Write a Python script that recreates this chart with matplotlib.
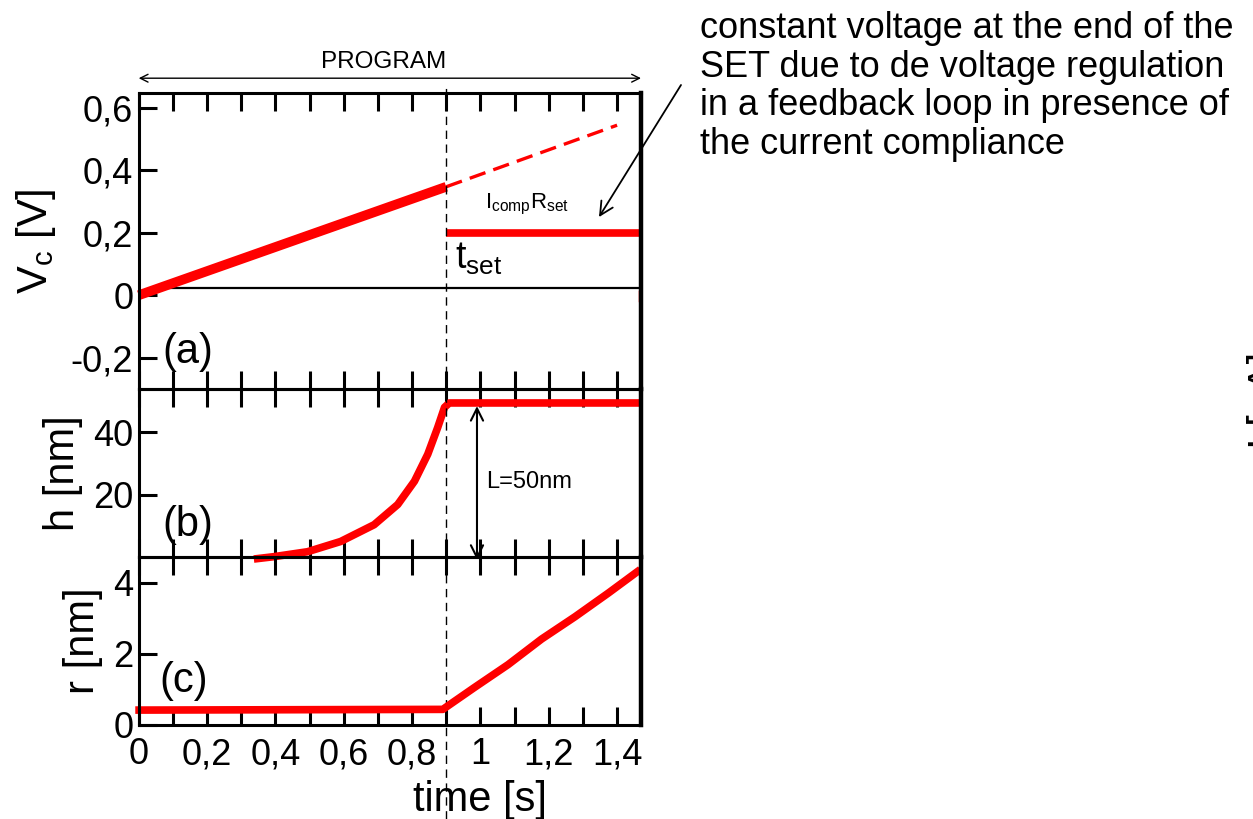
import numpy as np
import matplotlib.pyplot as plt
from matplotlib.ticker import MultipleLocator, FuncFormatter
from matplotlib.transforms import blended_transform_factory

plt.rcParams['font.family'] = ['Liberation Sans', 'DejaVu Sans']
plt.rcParams['mathtext.fontset'] = 'custom'
plt.rcParams['mathtext.rm'] = 'Liberation Sans'
plt.rcParams['mathtext.it'] = 'Liberation Sans'

# --- donnees ---
t_set = 0.9
t_max = 1.47

# (a) tension
t_ramp = [0.0, 0.9]
v_ramp = [0.0, 0.347]
t_extrap = [0.9, 1.4]
v_extrap = [0.347, 0.544]
t_comp = [0.9, 1.47]
v_comp = [0.2, 0.2]
t_base = [0.053, 1.47]
v_base = [0.023, 0.023]
t_drop = [1.468, 1.468]
v_drop = [0.01, -0.015]

# (b) hauteur du filament
t_h = [0.337, 0.395, 0.494, 0.591, 0.689, 0.758, 0.807, 0.846, 0.875, 0.895, 0.909, 1.47]
h_vals = [-0.75, 0.0, 1.6, 4.9, 10.3, 16.8, 24.3, 33.0, 41.6, 48.1, 49.5, 49.5]

# (c) rayon du filament
t_r = [-0.01, 0.89, 0.983, 1.081, 1.179, 1.277, 1.375, 1.468]
r_vals = [0.42, 0.44, 1.06, 1.70, 2.42, 3.05, 3.72, 4.38]

yticks_a = [-0.2, 0, 0.2, 0.4, 0.6]
yticks_b = [20, 40]
yticks_c = [0, 2, 4]

RED = '#ff0000'

fig = plt.figure(figsize=(12.53, 8.19), dpi=100)
W, H = 1253, 819

def box(top, bottom, left=138.7, right=641):
    return [left / W, 1 - bottom / H, (right - left) / W, (bottom - top) / H]

ax_a = fig.add_axes(box(93, 389))
ax_b = fig.add_axes(box(389, 556.7))
ax_c = fig.add_axes(box(556.7, 725))

comma = FuncFormatter(lambda v, p: f'{v:g}'.replace('.', ','))

for ax, yt in [(ax_a, yticks_a), (ax_b, yticks_b), (ax_c, yticks_c)]:
    ax.set_xlim(0, t_max)
    ax.xaxis.set_major_locator(MultipleLocator(0.2))
    ax.xaxis.set_minor_locator(MultipleLocator(0.1))
    ax.xaxis.set_major_formatter(comma)
    ax.set_yticks(yt)
    ax.yaxis.set_major_formatter(comma)
    ax.tick_params(which='both', direction='in', length=13, width=2.2,
                   top=True, bottom=True, left=True, right=False,
                   labelsize=26, pad=4)
    ax.tick_params(axis='x', pad=9)
    for s in ax.spines.values():
        s.set_linewidth(2.2)
    ax.spines['right'].set_linewidth(3.2)
    ax.patch.set_alpha(0)

ax_a.tick_params(labelbottom=False)
ax_b.tick_params(labelbottom=False)

ax_a.set_ylim(-0.3, 0.647)
ax_b.set_ylim(0, 54)
ax_c.set_ylim(0, 4.74)

# (a)
ax_a.plot(t_base, v_base, color='black', lw=1.6)
ax_a.plot(t_ramp, v_ramp, color=RED, lw=7, solid_capstyle='butt', clip_on=False)
ax_a.plot(t_extrap, v_extrap, color=RED, lw=2.4, ls=(0, (5, 2.5)))
ax_a.plot(t_comp, v_comp, color=RED, lw=5.5, solid_capstyle='butt')
ax_a.plot(t_drop, v_drop, color=RED, lw=2.5)

ax_a.text(1.012, 0.29, r'$\mathrm{I_{comp}R_{set}}$', fontsize=16, ha='left', va='center')
ax_a.text(0.925, 0.175, r'$\mathrm{t_{set}}$', fontsize=27, ha='left', va='top')
ax_a.text(0.07, -0.182, '(a)', fontsize=30, ha='left', va='center')

# (b)
ax_b.plot(t_h, h_vals, color=RED, lw=5.5, solid_capstyle='butt',
          solid_joinstyle='round', clip_on=False)
ax_b.annotate('', xy=(0.99, 48.5), xytext=(0.99, -1.0),
              arrowprops=dict(arrowstyle='<->', color='black', lw=1.5,
                              mutation_scale=22, shrinkA=0, shrinkB=0),
              annotation_clip=False)
ax_b.text(1.016, 24, 'L=50nm', fontsize=17, ha='left', va='center')
ax_b.text(0.07, 10.1, '(b)', fontsize=30, ha='left', va='center')

# (c)
ax_c.plot(t_r, r_vals, color=RED, lw=5.5, solid_capstyle='butt',
          solid_joinstyle='round', clip_on=False)
ax_c.text(0.06, 1.24, '(c)', fontsize=30, ha='left', va='center')

# etiquettes des axes
ax_a.text(-0.205, 0.5, r'$\mathrm{V_c}$ [V]', transform=ax_a.transAxes,
          rotation=90, ha='center', va='center', fontsize=30)
ax_b.text(-0.151, 0.5, 'h [nm]', transform=ax_b.transAxes,
          rotation=90, ha='center', va='center', fontsize=30)
ax_c.text(-0.111, 0.5, 'r [nm]', transform=ax_c.transAxes,
          rotation=90, ha='center', va='center', fontsize=30)
ax_c.text(0.68, -0.444, 'time [s]', transform=ax_c.transAxes,
          ha='center', va='center', fontsize=30)

# ligne verticale t_set sur toute la hauteur
tr = blended_transform_factory(ax_c.transData, fig.transFigure)
ax_c.plot([t_set, t_set], [0.0, 1 - 85 / H], transform=tr, color='black',
          lw=1.0, ls=(0, (6, 4)), clip_on=False, zorder=0)

# fleche PROGRAM
tra = blended_transform_factory(ax_a.transData, ax_a.transAxes)
ax_a.annotate('', xy=(0, 1.05), xytext=(t_max, 1.05), xycoords=tra, textcoords=tra,
              arrowprops=dict(arrowstyle='<->', color='black', lw=1.0,
                              mutation_scale=14, shrinkA=0, shrinkB=0))
ax_a.text(0.487, 1.105, 'PROGRAM', transform=ax_a.transAxes, ha='center',
          va='center', fontsize=17.5)

# commentaire a droite
fig.text(700 / W, 1 - 11 / H,
         'constant voltage at the end of the\nSET due to de voltage regulation\n'
         'in a feedback loop in presence of\nthe current compliance',
         fontsize=26, ha='left', va='top', linespacing=1.13)
ax_a.annotate('', xy=(1.347, 0.25), xytext=(681 / W, 1 - 85 / H),
              textcoords='figure fraction',
              arrowprops=dict(arrowstyle='->', color='black', lw=1.3,
                              mutation_scale=24, shrinkA=0, shrinkB=0))

# morceau d'etiquette coupe au bord droit
fig.text(1247 / W, 1 - 400 / H, 'I [nA]', rotation=90, ha='left', va='center',
         fontsize=30)

fig.savefig('out.png', dpi=100)
